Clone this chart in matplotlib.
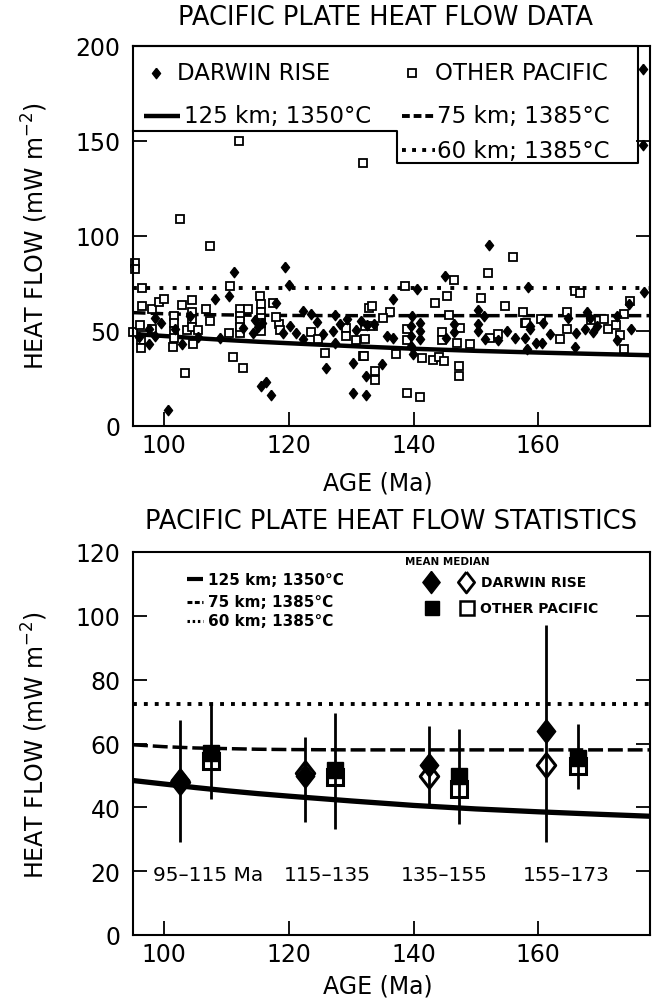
import matplotlib
matplotlib.use('Agg')
import matplotlib.pyplot as plt

plt.rcParams['font.family'] = ['DejaVu Sans']
plt.rcParams['mathtext.fontset'] = 'dejavusans'

# ---- heat flow measurements (age Ma, heat flow mW m-2) ----
darwin_age = [100.6, 111.2, 119.3, 120.0, 110.4, 108.1, 118.0, 97.6, 102.9, 115.6,
              116.4, 117.2, 126.0, 130.3, 130.3, 132.4, 132.4, 122.3, 123.6, 127.4,
              127.1, 129.3, 120.2, 121.2, 122.3, 114.3, 109.0, 112.7, 115.7, 98.5,
              98.5, 97.5, 101.7, 104.1, 119.1, 127.4, 132.5, 96.0, 99.5, 105.5,
              114.5, 115.0, 124.5, 125.5, 128.2, 130.8, 131.5,
              152.1, 145.0, 140.5, 136.7, 158.3, 177.0, 174.6, 150.3, 151.3, 139.7,
              141.0, 141.0, 141.0, 139.6, 139.6, 139.6, 136.7, 135.7, 133.6, 135.0,
              139.9, 160.8, 161.9, 159.7, 160.6, 157.9, 156.3, 154.9, 153.6, 150.4,
              150.4, 151.4, 158.1, 158.7, 158.7, 165.9, 166.0, 164.8, 167.5, 167.8,
              168.2, 168.8, 169.4, 172.6, 174.8, 172.6, 146.4, 146.4, 145.2, 176.8,
              176.8]
darwin_hf = [8.5, 80.9, 83.5, 74.3, 68.5, 66.7, 64.6, 42.9, 42.9, 21.2,
             22.9, 16.4, 30.5, 33.2, 17.3, 16.4, 26.5, 60.5, 58.8, 58.3,
             50.0, 56.1, 52.6, 49.1, 45.6, 49.1, 46.5, 51.7, 54.4, 57.0,
             47.3, 50.8, 50.8, 57.9, 49.1, 43.8, 53.0, 47.0, 54.0, 47.0,
             55.5, 52.0, 54.5, 48.5, 53.5, 50.5, 55.0,
             95.3, 78.6, 72.0, 66.7, 73.3, 70.6, 64.1, 60.9, 57.9, 57.9,
             54.4, 49.9, 45.6, 52.6, 47.3, 42.0, 46.4, 47.3, 53.5, 32.7,
             37.6, 54.4, 48.2, 43.8, 43.8, 46.4, 46.4, 50.0, 45.0, 49.7,
             53.5, 45.6, 40.3, 52.6, 50.8, 41.7, 48.7, 57.0, 51.2, 59.7,
             57.0, 49.4, 52.6, 57.9, 50.8, 45.2, 53.5, 49.2, 46.4, 187.5,
             147.8]

other_age = [95.4, 95.4, 95.0, 96.4, 96.4, 98.0, 99.2, 99.9, 96.2, 98.0,
             96.3, 96.3, 101.4, 102.5, 102.8, 101.5, 101.5, 101.5, 101.5, 103.3,
             103.7, 104.4, 104.4, 104.4, 104.4, 104.6, 105.4, 106.7, 107.3, 107.3,
             110.4, 110.6, 111.1, 112.0, 112.1, 113.5, 115.4, 117.5, 112.1, 112.7,
             115.6, 118.4, 123.5, 124.7, 125.8, 129.1, 129.1, 130.7, 131.8, 132.9,
             131.9, 115.5, 115.5, 115.5, 115.5, 112.1, 112.1, 112.1, 118.0, 118.5,
             133.4, 136.2, 135.1, 138.6, 143.4, 145.4, 146.5, 152.0, 155.9, 150.8,
             154.6, 157.6, 157.8, 165.9, 166.7, 164.6, 164.6, 163.5, 171.1, 172.4,
             173.1, 173.7, 174.7, 173.7, 147.4, 145.7, 144.5, 144.5, 146.9, 149.0,
             152.3, 153.6, 158.0, 138.9, 138.9, 137.2, 141.3, 143.1, 144.0, 144.9,
             147.2, 147.2, 133.8, 133.8, 138.9, 141.1, 132.2, 132.1, 132.2, 133.5,
             160.5, 168.5, 170.5]
other_hf = [85.8, 82.6, 49.4, 72.4, 63.2, 61.4, 65.0, 66.7, 53.0, 50.8,
            45.2, 41.0, 41.7, 108.7, 63.5, 58.0, 54.0, 50.0, 46.0, 27.9,
            50.5, 66.2, 60.0, 56.0, 52.0, 43.3, 50.3, 61.4, 94.6, 55.0,
            49.1, 73.5, 36.4, 150.0, 61.4, 61.4, 68.5, 64.6, 49.1, 30.5,
            50.0, 53.5, 49.4, 45.9, 38.5, 51.7, 47.2, 45.2, 36.7, 61.8,
            138.0, 64.0, 60.0, 57.0, 54.0, 58.0, 55.0, 52.0, 57.5, 50.5,
            63.2, 60.0, 57.0, 73.4, 64.6, 68.5, 77.0, 80.3, 88.8, 67.1,
            63.2, 59.7, 54.4, 71.1, 69.8, 59.7, 51.2, 45.6, 50.8, 53.1,
            47.8, 40.3, 65.8, 58.8, 51.7, 58.4, 49.4, 45.2, 43.8, 42.9,
            46.4, 48.2, 54.0, 50.8, 45.2, 37.6, 35.9, 34.6, 36.4, 34.1,
            31.4, 26.1, 28.8, 24.4, 17.3, 15.5, 45.6, 36.7, 52.6, 52.6,
            56.5, 55.5, 56.0]

# ---- model curves ----
model_age = [95, 100, 105, 110, 115, 120, 130, 140, 150, 160, 170, 178]
hf_125km = [48.4, 47.3, 46.2, 45.2, 44.3, 43.5, 42.0, 40.6, 39.5, 38.6, 37.8, 37.2]
hf_75km = [59.6, 59.0, 58.6, 58.4, 58.2, 58.1, 58.0, 58.0, 58.0, 58.0, 58.0, 58.0]
hf_60km = [72.5, 72.5, 72.5, 72.5, 72.5, 72.5, 72.5, 72.5, 72.5, 72.5, 72.5, 72.5]

# ---- statistics per age bin ----
bin_labels = ['95–115 Ma', '115–135', '135–155', '155–173']
bin_label_age = [107.1, 126.2, 144.9, 164.5]
darwin_stat_age = [102.6, 122.6, 142.4, 161.2]
darwin_mean = [48.7, 49.7, 53.3, 64.0]
darwin_median = [48.0, 50.8, 49.7, 53.4]
darwin_lo = [29.0, 35.3, 41.0, 29.0]
darwin_hi = [67.5, 62.0, 65.4, 97.0]
other_stat_age = [107.5, 127.4, 147.3, 166.3]
other_mean = [57.1, 51.8, 49.7, 55.5]
other_median = [54.5, 49.5, 45.9, 52.9]
other_lo = [42.6, 33.3, 34.9, 45.8]
other_hi = [72.3, 69.4, 64.4, 66.2]

DIAMOND = [(0, 1), (0.78, 0), (0, -1), (-0.78, 0), (0, 1)]

W, H = 653, 1004
fig = plt.figure(figsize=(W / 100, H / 100), dpi=100)


def box(l, t, r, b):
    return [l / W, 1 - b / H, (r - l) / W, (b - t) / H]


ax1 = fig.add_axes(box(133, 46.5, 650, 427))
ax2 = fig.add_axes(box(133, 553, 650, 936))

for ax in (ax1, ax2):
    ax.set_xlim(95, 177.9)
    ax.set_xticks([100, 120, 140, 160])
    ax.tick_params(direction='in', length=10, width=1.3, labelsize=17,
                   top=False, right=True)
    ax.tick_params(axis='x', pad=5)
    ax.tick_params(axis='y', pad=9)
    for s in ax.spines.values():
        s.set_linewidth(1.5)

# ---------------- top panel ----------------
ax1.set_ylim(0, 200)
ax1.set_yticks([0, 50, 100, 150, 200])
ax1.plot(model_age, hf_125km, color='k', lw=3.2, solid_capstyle='butt')
ax1.plot(model_age, hf_75km, color='k', lw=2.5, dashes=(3.6, 1.5))
ax1.plot(model_age, hf_60km, color='k', lw=2.8, dashes=(1.0, 2.4))
ax1.plot(other_age, other_hf, ls='none', marker='s', ms=5.5, mfc='white',
         mec='k', mew=1.3, clip_on=False)
ax1.plot(darwin_age, darwin_hf, ls='none', marker=DIAMOND, ms=7.5, color='k',
         clip_on=False)

# legend box (L-shaped outline) and entries
ax1.plot([95, 175.9, 175.9, 137.3, 137.3, 95], [200, 200, 138, 138, 155, 155],
         color='k', lw=1.5, clip_on=False)
fs_leg = 16.5
ax1.plot([98.7], [185.6], marker=DIAMOND, ms=7.5, color='k')
ax1.text(102.0, 185.6, 'DARWIN RISE', fontsize=fs_leg, va='center')
ax1.plot([139.8], [185.6], marker='s', ms=5.5, mfc='white', mec='k', mew=1.3)
ax1.text(143.4, 185.6, 'OTHER PACIFIC', fontsize=fs_leg, va='center')
ax1.plot([96.7, 102.5], [163.0, 163.0], color='k', lw=3.2, solid_capstyle='butt')
ax1.text(103.2, 163.0, '125 km; 1350°C', fontsize=fs_leg, va='center')
ax1.plot([138.2, 143.4], [163.0, 163.0], color='k', lw=2.8, dashes=(2.0, 1.0))
ax1.text(143.8, 163.0, '75 km; 1385°C', fontsize=fs_leg, va='center')
ax1.plot([138.2, 143.4], [145.0, 145.0], color='k', lw=2.8, dashes=(1.0, 1.6))
ax1.text(143.8, 145.0, '60 km; 1385°C', fontsize=fs_leg, va='center')

# ---------------- bottom panel ----------------
ax2.set_ylim(0, 120)
ax2.set_yticks([0, 20, 40, 60, 80, 100, 120])
ax2.plot(model_age, hf_125km, color='k', lw=3.8, solid_capstyle='butt')
ax2.plot(model_age, hf_75km, color='k', lw=2.5, dashes=(4.3, 1.4))
ax2.plot(model_age, hf_60km, color='k', lw=2.8, dashes=(1.0, 1.8))

ax2.plot(darwin_stat_age, darwin_median, ls='none', marker=DIAMOND, ms=17,
         mfc='white', mec='k', mew=2.2, zorder=3)
ax2.plot(other_stat_age, other_median, ls='none', marker='s', ms=11.5,
         mfc='white', mec='k', mew=2.2, zorder=3)
ax2.plot(darwin_stat_age, darwin_mean, ls='none', marker=DIAMOND, ms=17,
         color='k', zorder=4)
ax2.plot(other_stat_age, other_mean, ls='none', marker='s', ms=11.5,
         color='k', zorder=4)
ax2.vlines(darwin_stat_age, darwin_lo, darwin_hi, color='k', lw=2.0, zorder=5)
ax2.vlines(other_stat_age, other_lo, other_hi, color='k', lw=2.0, zorder=5)

for a, lab in zip(bin_label_age, bin_labels):
    ax2.text(a, 18.9, lab, fontsize=14.5, ha='center', va='center')

# legend of bottom panel
fs_b = 11
ax2.plot([103.6, 106.3], [111.5, 111.5], color='k', lw=3.0, solid_capstyle='butt')
ax2.text(107.1, 111.5, '125 km; 1350°C', fontsize=fs_b, weight='bold', va='center')
ax2.plot([103.6, 106.3], [104.4, 104.4], color='k', lw=2.2, dashes=(1.6, 0.8))
ax2.text(107.1, 104.4, '75 km; 1385°C', fontsize=fs_b, weight='bold', va='center')
ax2.plot([103.6, 106.3], [98.4, 98.4], color='k', lw=2.2, dashes=(0.8, 0.9))
ax2.text(107.1, 98.4, '60 km; 1385°C', fontsize=fs_b, weight='bold', va='center')

ax2.text(138.6, 117.3, 'MEAN MEDIAN', fontsize=7.5, weight='bold', va='center')
ax2.plot([142.8], [110.7], marker=DIAMOND, ms=16, color='k')
ax2.plot([148.4], [110.7], marker=DIAMOND, ms=15, mfc='white', mec='k', mew=2.0)
ax2.text(150.8, 110.7, 'DARWIN RISE', fontsize=10, weight='bold', va='center')
ax2.plot([142.9], [102.6], marker='s', ms=10, color='k')
ax2.plot([148.5], [102.6], marker='s', ms=10, mfc='white', mec='k', mew=1.8)
ax2.text(150.7, 102.6, 'OTHER PACIFIC', fontsize=10, weight='bold', va='center')

# ---------------- titles and axis labels ----------------
fig.text(386 / W, 1 - 18 / H, 'PACIFIC PLATE HEAT FLOW DATA', fontsize=18.5,
         ha='center', va='center')
fig.text(391 / W, 1 - 522 / H, 'PACIFIC PLATE HEAT FLOW STATISTICS', fontsize=18.5,
         ha='center', va='center')
fig.text(378 / W, 1 - 484 / H, 'AGE (Ma)', fontsize=17, ha='center', va='center')
fig.text(378 / W, 1 - 987 / H, 'AGE (Ma)', fontsize=17, ha='center', va='center')
ylab = 'HEAT FLOW (mW m$^{-2}$)'
fig.text(35 / W, 1 - 236 / H, ylab, fontsize=17, rotation=90, ha='center', va='center')
fig.text(35 / W, 1 - 745 / H, ylab, fontsize=17, rotation=90, ha='center', va='center')

fig.savefig('out.png', dpi=100)
